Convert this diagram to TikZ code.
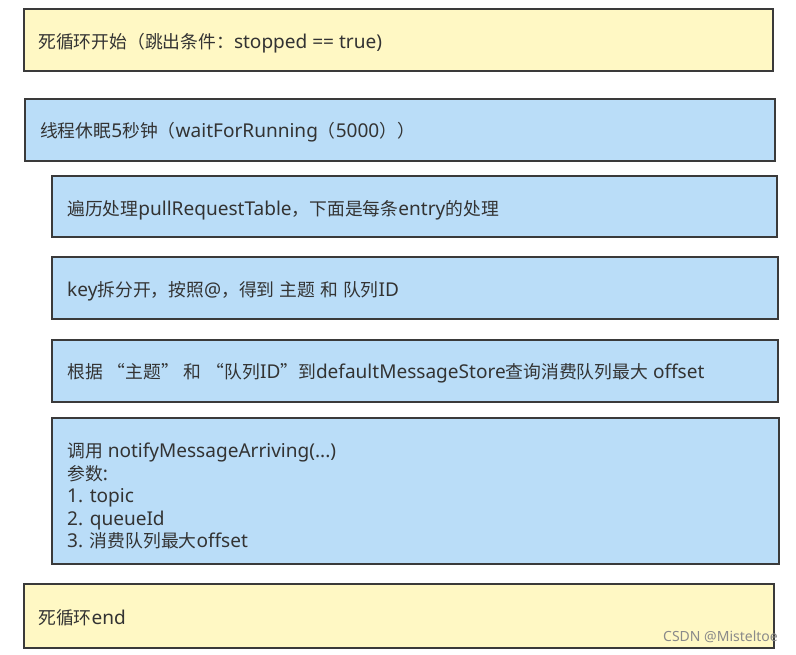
\documentclass[tikz,border=0pt]{standalone}
\usepackage{fontspec}
\setmainfont{Noto Sans}[Scale=1.07]
\newfontfamily\cjkfont{Noto Sans CJK SC}
\newfontfamily\latinfont{Noto Sans}[Scale=1.07]
\newfontfamily\markfont{Noto Sans}
\XeTeXinterchartokenstate=1
\newXeTeXintercharclass\cjkclass
\newcount\cjkcnt
\def\setcjkrange#1#2{\cjkcnt=#1\relax
  \loop\XeTeXcharclass\cjkcnt=\cjkclass
  \ifnum\cjkcnt<#2\advance\cjkcnt by 1\repeat}
\setcjkrange{"3000}{"303F}
\setcjkrange{"4E00}{"9FFF}
\setcjkrange{"FF00}{"FFEF}
\XeTeXcharclass"201C=\cjkclass
\XeTeXcharclass"201D=\cjkclass
\XeTeXinterchartoks 0 \cjkclass = {\cjkfont}
\XeTeXinterchartoks 4095 \cjkclass = {\cjkfont}
\XeTeXinterchartoks \cjkclass 0 = {\latinfont}
\XeTeXinterchartoks \cjkclass 4095 = {\latinfont}
\definecolor{yellowfill}{HTML}{FFF8C4}
\definecolor{bluefill}{HTML}{BADDF8}
\definecolor{boxline}{HTML}{3A3A3A}
\definecolor{textcol}{HTML}{333333}
\definecolor{markcol}{HTML}{8A8A8A}
\begin{document}
\begin{tikzpicture}[x=1pt,y=-1pt,
  box/.style={draw=boxline, line width=2pt, inner sep=0pt, anchor=north west},
  yelbox/.style={box, fill=yellowfill},
  blubox/.style={box, fill=bluefill},
  txt/.style={anchor=west, inner sep=0pt, text=textcol, font=\fontsize{17.8}{22.5}\selectfont},
  wmark/.style={anchor=west, inner sep=0pt, text=markcol, font=\markfont\fontsize{14}{15}\selectfont}]
\useasboundingbox[fill=white] (0,0) rectangle (796,654);
\node[yelbox, minimum width=749pt, minimum height=62pt] (b1) at (23,8) {};
\node[blubox, minimum width=750pt, minimum height=62pt] (b2) at (24,98) {};
\node[blubox, minimum width=725pt, minimum height=61pt] (b3) at (51,175) {};
\node[blubox, minimum width=726pt, minimum height=62pt] (b4) at (51,256) {};
\node[blubox, minimum width=726pt, minimum height=62pt] (b5) at (51,339) {};
\node[blubox, minimum width=727pt, minimum height=146pt] (b6) at (51,417) {};
\node[yelbox, minimum width=750pt, minimum height=64pt] (b7) at (23,583) {};

\node[txt] (t1) at (38,43) {死循环开始（跳出条件：stopped == true)};
\node[txt] (t2) at (40,132) {线程休眠5秒钟（waitForRunning（5000））};
\node[txt] (t3) at (67,210) {遍历处理pullRequestTable，下面是每条entry的处理};
\node[txt] (t4) at (67,291) {key拆分开，按照@，得到 主题 和 队列ID};
\node[txt] (t5) at (67,373) {根据 “主题” 和 “队列ID”到defaultMessageStore查询消费队列最大 offset};
\node[txt, anchor=north west, align=left] (t6) at (67,443) {调用 notifyMessageArriving(...)\\参数:\\1. topic\\2. queueId\\3. 消费队列最大offset};
\node[txt] (t7) at (38,618) {死循环end};
\node[wmark] (wm) at (663,637) {CSDN @Misteltoe};
\end{tikzpicture}
\end{document}
